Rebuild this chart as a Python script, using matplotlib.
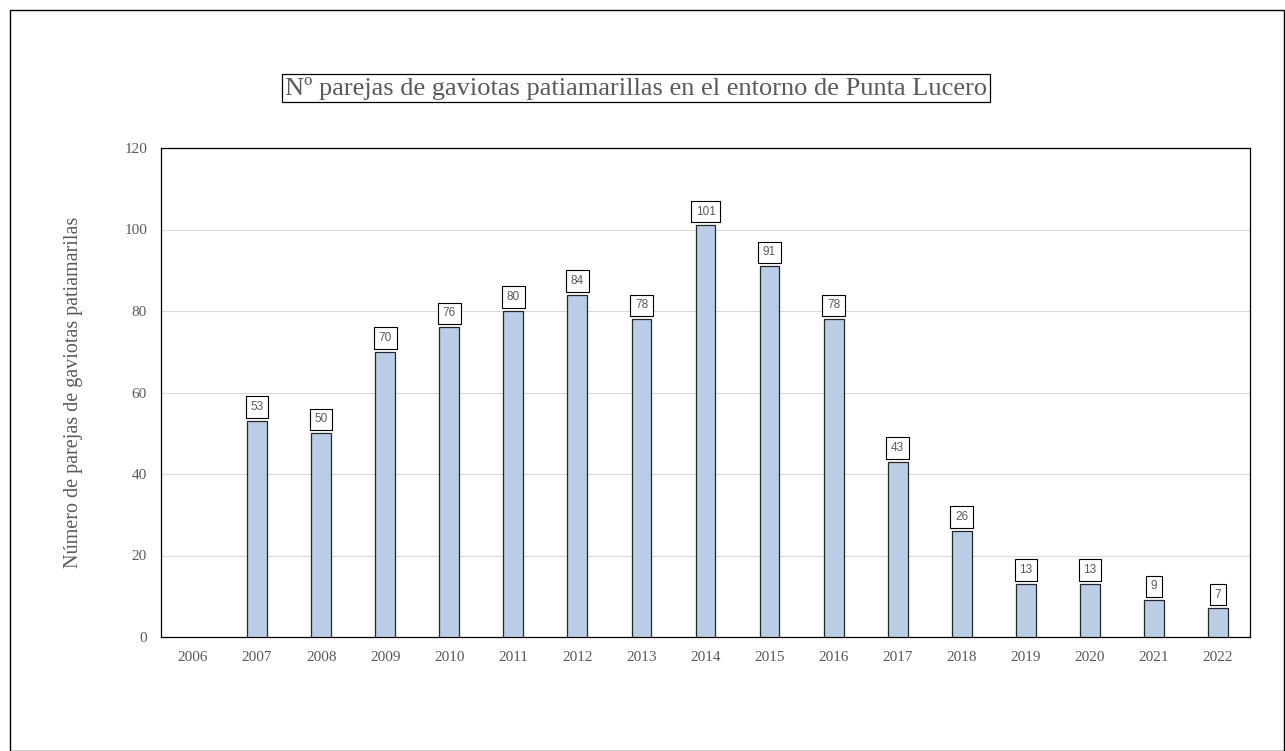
import matplotlib.pyplot as plt
from matplotlib.patches import Rectangle

years = ['2006', '2007', '2008', '2009', '2010', '2011', '2012', '2013', '2014',
         '2015', '2016', '2017', '2018', '2019', '2020', '2021', '2022']
parejas = [None, 53, 50, 70, 76, 80, 84, 78, 101, 91, 78, 43, 26, 13, 13, 9, 7]

serif = 'Liberation Serif'
gris = '#595959'

fig = plt.figure(figsize=(12.85, 7.51), dpi=100)
ax = fig.add_axes([161 / 1285, 1 - 637 / 751, 1089 / 1285, 489 / 751])

# marco exterior
fig.patches.append(Rectangle((10 / 1285, 0), 1 - 10 / 1285 - 0.001, 1 - 10 / 751,
                             transform=fig.transFigure, fill=False,
                             edgecolor='black', linewidth=1))

xs = [i for i, v in enumerate(parejas) if v is not None]
vals = [v for v in parejas if v is not None]
ax.bar(xs, vals, width=0.31, color='#B9CDE5', edgecolor='#262626', linewidth=0.9, zorder=3)

for x, v in zip(xs, vals):
    ax.annotate(str(v), (x, v), xytext=(0, 10), textcoords='offset points',
                ha='center', va='center', fontsize=8.5, color=gris,
                family='Liberation Sans',
                bbox=dict(boxstyle='square,pad=0.4', fc='white', ec='black', lw=0.8))

ax.set_xlim(-0.5, len(years) - 0.5)
ax.set_ylim(0, 120)
ax.set_yticks(range(0, 121, 20))
ax.set_xticks(range(len(years)))
ax.set_xticklabels(years)
ax.tick_params(length=0, labelsize=11, labelcolor=gris, pad=10)
for lab in ax.get_xticklabels() + ax.get_yticklabels():
    lab.set_family(serif)
ax.grid(axis='y', color='#d9d9d9', linewidth=0.8, zorder=0)
for s in ax.spines.values():
    s.set_color('black')
    s.set_linewidth(0.9)

ax.set_ylabel('Número de parejas de gaviotas patiamarilas', family=serif,
              fontsize=14.5, color=gris, labelpad=30)

fig.text(636 / 1285, 1 - 88 / 751, 'Nº parejas de gaviotas patiamarillas en el entorno de Punta Lucero',
         ha='center', va='center', family=serif, fontsize=19, color=gris,
         bbox=dict(boxstyle='square,pad=0.1', fc='white', ec='black', lw=0.9))

fig.savefig('out.png', dpi=100)
